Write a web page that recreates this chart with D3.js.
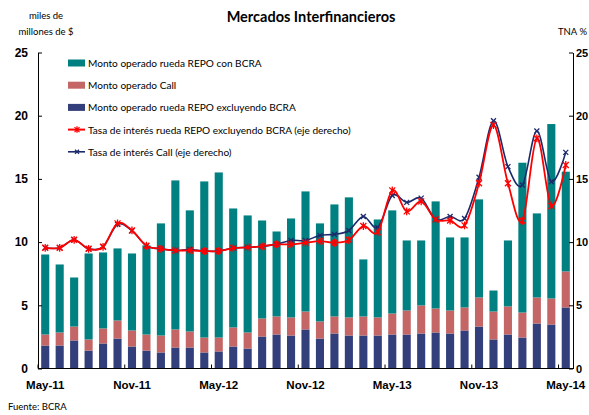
<!DOCTYPE html>
<html>
<head>
<meta charset="utf-8">
<script src="https://cdn.jsdelivr.net/npm/d3@7"></script>
<style>
  body { margin: 0; background: #fff; }
  svg { font-family: Lato, "Open Sans", sans-serif; }
  .axis path, .axis line { stroke: #000; }
  .axis text { font-weight: bold; font-size: 12px; fill: #000; }
</style>
</head>
<body>
<svg id="chart" width="589" height="415"></svg>
<script>
// months on the x axis
const months = [
	"May-11", "Jun-11", "Jul-11", "Aug-11", "Sep-11", "Oct-11", "Nov-11", "Dec-11",
	"Jan-12", "Feb-12", "Mar-12", "Apr-12", "May-12", "Jun-12", "Jul-12", "Aug-12",
	"Sep-12", "Oct-12", "Nov-12", "Dec-12", "Jan-13", "Feb-13", "Mar-13", "Apr-13",
	"May-13", "Jun-13", "Jul-13", "Aug-13", "Sep-13", "Oct-13", "Nov-13", "Dec-13",
	"Jan-14", "Feb-14", "Mar-14", "Apr-14", "May-14"
]
const tickLabels = ["May-11", "Nov-11", "May-12", "Nov-12", "May-13", "Nov-13", "May-14"]

// miles de millones de $
const repoExcl = [
	1.82, 1.82, 2.22, 1.42, 1.98, 2.37, 1.74, 1.42, 1.27, 1.66, 1.66, 1.27, 1.35,
	1.74, 1.58, 2.53, 2.69, 2.61, 3.09, 2.37, 2.77, 2.61, 2.61, 2.61, 2.69, 2.69,
	2.77, 2.85, 2.77, 3.01, 3.32, 2.30, 2.69, 2.45, 3.56, 3.48, 4.83
]
const call = [
	0.87, 1.03, 1.10, 0.88, 1.19, 1.43, 1.27, 1.27, 1.34, 1.43, 1.27, 1.18, 1.10,
	1.51, 1.27, 1.43, 1.43, 1.43, 1.42, 1.35, 1.35, 1.43, 1.51, 1.43, 1.66, 1.90,
	2.22, 1.90, 1.82, 1.82, 2.30, 2.21, 2.22, 1.98, 2.06, 2.06, 2.85
]
const repoBcra = [
	6.33, 5.38, 3.88, 6.80, 6.01, 5.70, 6.09, 7.05, 8.87, 11.79, 9.58, 12.35, 13.06,
	9.41, 9.26, 7.75, 6.72, 7.83, 9.50, 7.76, 8.86, 9.50, 4.51, 7.75, 8.16, 5.54,
	5.14, 8.47, 5.78, 5.54, 7.76, 1.66, 5.22, 11.85, 6.65, 13.80, 7.89
]

// TNA %
const tasaRepo = [
	9.55, 9.55, 10.18, 9.47, 9.63, 11.48, 10.92, 9.71, 9.47, 9.34, 9.34, 9.29, 9.29,
	9.53, 9.58, 9.66, 9.82, 9.82, 9.95, 10.08, 9.95, 10.16, 11.27, 10.79, 14.09, 12.43,
	13.22, 11.79, 11.71, 11.32, 14.65, 19.26, 14.65, 11.69, 18.21, 12.86, 16.1
]
const tasaCall = [
	9.55, 9.55, 10.18, 9.47, 9.63, 11.4, 10.9, 9.71, 9.47, 9.34, 9.42, 9.29, 9.29,
	9.53, 9.58, 9.66, 9.84, 10.13, 10.13, 10.53, 10.61, 10.92, 12.03, 11.16, 13.69, 13.14,
	13.48, 11.79, 12.03, 11.87, 15.13, 19.6, 15.97, 14.52, 18.79, 14.78, 17.1
]

const colours = {
	teal: "#008080",
	salmon: "#c46666",
	navy: "#333f7a",
	red: "#ff0000",
	callLine: "#1b2a6b"
}

const svg = d3.select("#chart")
const plotLeft = 38, plotRight = 573, plotBottom = 368.5, plotTop = 52.5

const x = d3.scaleBand().domain(months).range([plotLeft, plotRight]).paddingInner(0.44).paddingOuter(0.22)
const y = d3.scaleLinear().domain([0, 25]).range([plotBottom, plotTop])
const y2 = d3.scaleLinear().domain([0, 25]).range([plotBottom, plotTop])

const rows = months.map((m, i) => ({ month: m, repoExcl: repoExcl[i], call: call[i], repoBcra: repoBcra[i] }))
const series = d3.stack().keys(["repoExcl", "call", "repoBcra"])(rows)
const fills = { repoExcl: colours.navy, call: colours.salmon, repoBcra: colours.teal }

/**
 * stacked bars
 */
svg.append("g")
	.selectAll("g")
	.data(series)
	.enter()
	.append("g")
	.attr("fill", d => fills[d.key])
	.selectAll("rect")
	.data(d => d)
	.enter()
	.append("rect")
	.attr("x", d => x(d.data.month))
	.attr("width", x.bandwidth())
	.attr("y", d => y(d[1]))
	.attr("height", d => y(d[0]) - y(d[1]))

/**
 * axes
 */
svg.append("g")
	.attr("class", "axis")
	.attr("transform", `translate(${plotLeft},0)`)
	.call(d3.axisLeft(y).tickValues([0, 5, 10, 15, 20, 25]).tickSizeInner(-4).tickSizeOuter(0).tickPadding(10))

// right axis labels sit right at the edge of the picture, kept small so they fit
svg.append("g")
	.attr("class", "axis")
	.attr("transform", `translate(${plotRight},0)`)
	.call(d3.axisRight(y2).tickValues([0, 5, 10, 15, 20, 25]).tickSizeInner(-4).tickSizeOuter(0).tickPadding(3))
	.selectAll("text")
	.style("font-size", "11px")

const xAxis = svg.append("g")
	.attr("class", "axis")
	.attr("transform", `translate(0,${plotBottom})`)
	.call(d3.axisBottom(x).tickValues(tickLabels).tickSize(0).tickPadding(12))
xAxis.selectAll("text").style("font-size", "11.5px")
xAxis.select(".domain").attr("d", `M${plotLeft},0H${plotRight}`)

// tick marks sit on the left edge of each band, every six months
xAxis.selectAll(".xtick")
	.data(tickLabels)
	.enter()
	.append("line")
	.attr("class", "xtick")
	.attr("x1", d => x(d) - x.step() * x.paddingInner() / 2)
	.attr("x2", d => x(d) - x.step() * x.paddingInner() / 2)
	.attr("y1", 0)
	.attr("y2", -4)
	.attr("stroke", "#000")

/**
 * rate lines (smoothed, like the original)
 */
const cx = (d, i) => x(months[i]) + x.bandwidth() / 2
const lineGen = d3.line().x(cx).y(d => y2(d)).curve(d3.curveCardinal.tension(0))

const asterisk = s => `M${-s},${-s}L${s},${s}M${-s},${s}L${s},${-s}M0,${-s * 1.3}V${s * 1.3}`
const cross = s => `M${-s},${-s}L${s},${s}M${-s},${s}L${s},${-s}`

const lines = [
	{ values: tasaCall, colour: colours.callLine, width: 1.6, marker: cross(2.5) },
	{ values: tasaRepo, colour: colours.red, width: 1.8, marker: asterisk(3) }
]

lines.forEach(l => {
	svg.append("path")
		.datum(l.values)
		.attr("fill", "none")
		.attr("stroke", l.colour)
		.attr("stroke-width", l.width)
		.attr("d", lineGen)

	svg.append("g")
		.selectAll("path")
		.data(l.values)
		.enter()
		.append("path")
		.attr("transform", (d, i) => `translate(${cx(d, i)},${y2(d)})`)
		.attr("d", l.marker)
		.attr("stroke", l.colour)
		.attr("stroke-width", 1.3)
		.attr("fill", "none")
})

/**
 * titles and notes
 */
svg.append("text")
	.attr("x", 311)
	.attr("y", 22)
	.attr("text-anchor", "middle")
	.style("font-size", "14.5px")
	.style("font-weight", "bold")
	.text("Mercados Interfinancieros")

svg.append("text").attr("x", 46).attr("y", 19).attr("text-anchor", "middle").style("font-size", "9.5px").text("miles de")
svg.append("text").attr("x", 46).attr("y", 35).attr("text-anchor", "middle").style("font-size", "9.5px").text("millones de $")
svg.append("text").attr("x", 558).attr("y", 35).style("font-size", "9.5px").text("TNA %")
svg.append("text").attr("x", 8).attr("y", 410).style("font-size", "9.5px").text("Fuente: BCRA")

/**
 * legend
 */
const legendItems = [
	{ label: "Monto operado rueda REPO con BCRA", type: "box", colour: colours.teal },
	{ label: "Monto operado Call", type: "box", colour: colours.salmon },
	{ label: "Monto operado rueda REPO excluyendo BCRA", type: "box", colour: colours.navy },
	{ label: "Tasa de interés rueda REPO excluyendo BCRA (eje derecho)", type: "line", colour: colours.red, marker: asterisk(2.5), width: 2 },
	{ label: "Tasa de interés Call (eje derecho)", type: "line", colour: colours.callLine, marker: cross(2), width: 1.6 }
]

const legend = svg.append("g")
	.selectAll("g")
	.data(legendItems)
	.enter()
	.append("g")
	.attr("transform", (d, i) => `translate(68,${63 + i * 22.2})`)

legend.filter(d => d.type === "box")
	.append("rect")
	.attr("x", 0)
	.attr("y", -3.5)
	.attr("width", 17)
	.attr("height", 7)
	.attr("fill", d => d.colour)

const lineItems = legend.filter(d => d.type === "line")
lineItems.append("line")
	.attr("x1", 0)
	.attr("x2", 17)
	.attr("stroke", d => d.colour)
	.attr("stroke-width", d => d.width)
lineItems.append("path")
	.attr("transform", "translate(9,0)")
	.attr("d", d => d.marker)
	.attr("stroke", d => d.colour)
	.attr("stroke-width", 1.3)
	.attr("fill", "none")

legend.append("text")
	.attr("x", 20)
	.attr("y", 4)
	.style("font-size", "10.1px")
	.text(d => d.label)
</script>
</body>
</html>
